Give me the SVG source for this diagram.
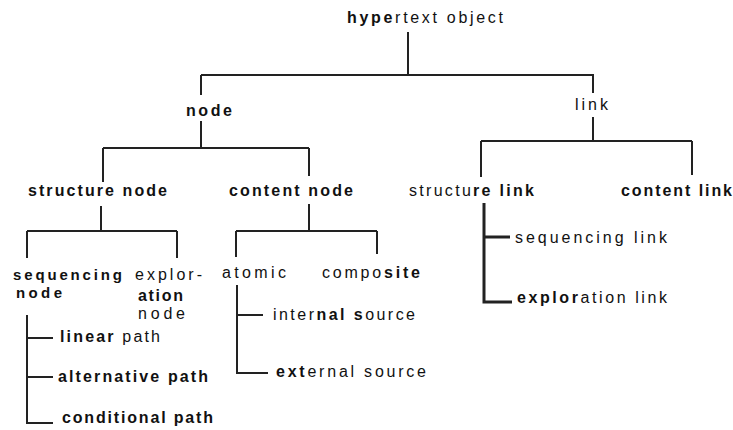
<svg xmlns="http://www.w3.org/2000/svg" width="733" height="430" viewBox="0 0 733 430">
<style>
text{font-family:"Liberation Sans",Arial,sans-serif;font-size:16px;fill:#111}
.b{font-weight:bold}
.s{font-size:15px}
.c path{stroke:#222;stroke-width:2;fill:none}
.c .t{stroke-width:3}
</style>
<rect width="733" height="430" fill="#fff"/>
<g class="c" id="connectors">
<path d="M408 32V75M201 75H593V93M201 75V95"/>
<path d="M201 121V148M103 148H309M103 148V182M309 148V176"/>
<path d="M593 117V141M481 141H692M481 141V177M692 141V175"/>
<path d="M101 206V231M27 231H177M27 231V258M177 231V258"/>
<path d="M309 204V231M236 231H377M236 231V257M377 231V254"/>
<path class="t" d="M484 203V302H512M484 237H510"/>
<path d="M27 315V423H53M27 338H53M27 377H53"/>
<path d="M237 285V373H268M237 315H263"/>
</g>
<g id="hypertext-object"><text x="347" y="23" textLength="156" lengthAdjust="spacing"><tspan class="b">hype</tspan>rtext object</text></g>
<g id="node"><text class="b" x="186" y="116" textLength="46" lengthAdjust="spacing">node</text></g>
<g id="link"><text x="575" y="110" textLength="33" lengthAdjust="spacing">link</text></g>
<g id="structure-node"><text class="b" x="28" y="196" textLength="139" lengthAdjust="spacing">structure node</text></g>
<g id="content-node"><text class="b" x="229" y="196" textLength="124" lengthAdjust="spacing">content node</text></g>
<g id="structure-link"><text x="409" y="196" textLength="125" lengthAdjust="spacing">structu<tspan class="b">re link</tspan></text></g>
<g id="content-link"><text class="b" x="621" y="196" textLength="111" lengthAdjust="spacing">content link</text></g>
<g id="sequencing-node"><text class="b s"><tspan x="13" y="280" textLength="109" lengthAdjust="spacing">sequencing</tspan><tspan x="16" y="298" textLength="46" lengthAdjust="spacing">node</tspan></text></g>
<g id="exploration-node"><text><tspan x="135" y="280" textLength="67" lengthAdjust="spacing">explor-</tspan><tspan class="b" x="138" y="301" textLength="45" lengthAdjust="spacing">ation</tspan><tspan x="138" y="319" textLength="47" lengthAdjust="spacing">node</tspan></text></g>
<g id="atomic"><text x="222" y="278" textLength="64" lengthAdjust="spacing">atomic</text></g>
<g id="composite"><text x="322" y="278" textLength="98" lengthAdjust="spacing">compo<tspan class="b">site</tspan></text></g>
<g id="sequencing-link"><text x="515" y="243" textLength="152" lengthAdjust="spacing">sequencing link</text></g>
<g id="exploration-link"><text x="517" y="303" textLength="150" lengthAdjust="spacing"><tspan class="b">explor</tspan>ation link</text></g>
<g id="linear-path"><text x="60" y="342" textLength="100" lengthAdjust="spacing"><tspan class="b">linear</tspan> path</text></g>
<g id="alternative-path"><text class="b" x="58" y="382" textLength="150" lengthAdjust="spacing">alternative path</text></g>
<g id="conditional-path"><text class="b" x="62" y="423" textLength="151" lengthAdjust="spacing">conditional path</text></g>
<g id="internal-source"><text x="273" y="320" textLength="142" lengthAdjust="spacing">inter<tspan class="b">nal s</tspan>ource</text></g>
<g id="external-source"><text x="276" y="377" textLength="150" lengthAdjust="spacing"><tspan class="b">ext</tspan>ernal source</text></g>
</svg>
